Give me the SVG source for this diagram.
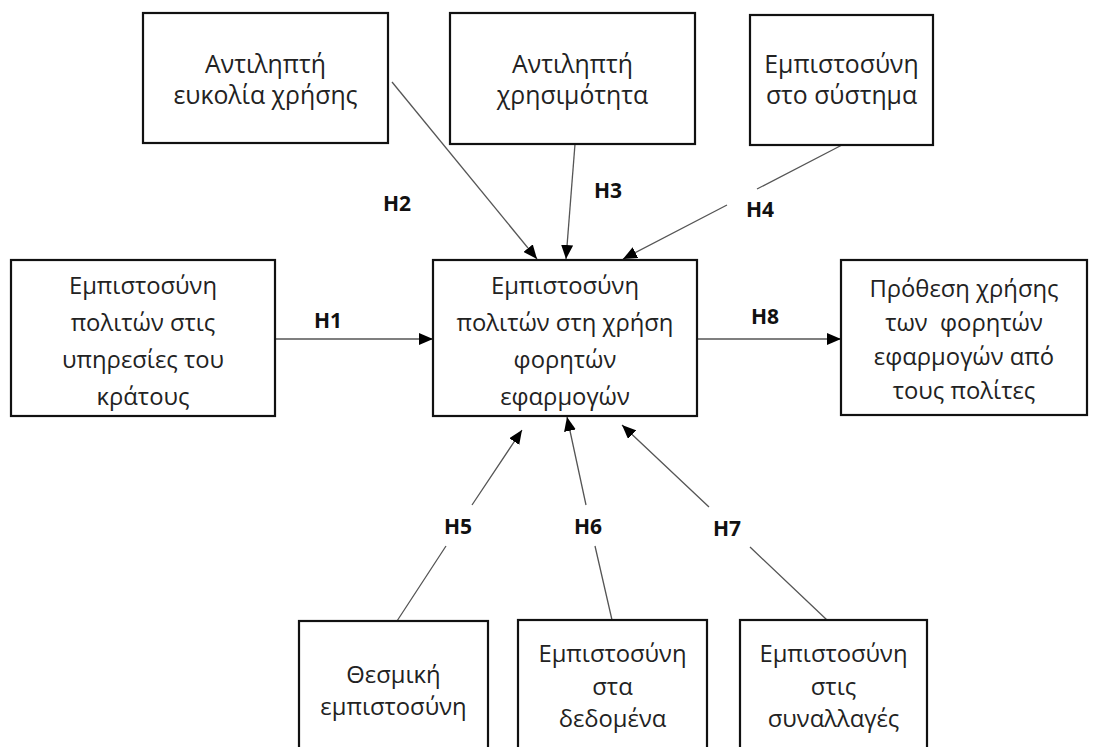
<svg xmlns="http://www.w3.org/2000/svg" width="1099" height="747" viewBox="0 0 1099 747">
<style>
.box{fill:#fff;stroke:#111;stroke-width:2.2}
.t{font-family:"Open Sans","Noto Sans","DejaVu Sans",sans-serif;font-size:23.8px;fill:#222;text-anchor:middle}
.tt{font-size:24.8px}
.lbl{font-family:"Open Sans","Noto Sans","DejaVu Sans",sans-serif;font-size:21px;font-weight:bold;fill:#111;text-anchor:middle}
.c{fill:none;stroke:#555;stroke-width:1.3;marker-end:url(#ah)}
</style>
<defs>
<marker id="ah" markerUnits="userSpaceOnUse" markerWidth="14" markerHeight="12" viewBox="0 0 14 12" refX="14" refY="6" orient="auto">
<path d="M0,0 L14,6 L0,12 z" fill="#000"/>
</marker>
</defs>
<rect width="1099" height="747" fill="#fff"/>
<g id="connectors">
<path class="c" d="M275,339 L433,339"/>
<path class="c" d="M697,339 L841,339"/>
<path class="c" d="M392,82 L537,259"/>
<path class="c" d="M575,144 L566,259"/>
<path class="c" d="M842,145 L757,189 M727,205 L623,259"/>
<path class="c" d="M397,621 L446,546 M472,505 L522,430"/>
<path class="c" d="M612,620 L595,546 M586,505 L567,417"/>
<path class="c" d="M827,620 L750,547 M709,507 L622,425"/>
</g>
<g id="labels">
<text class="lbl" x="328" y="328">H1</text>
<text class="lbl" x="397" y="211">H2</text>
<text class="lbl" x="608" y="198">H3</text>
<text class="lbl" x="760" y="217">H4</text>
<text class="lbl" x="458" y="534">H5</text>
<text class="lbl" x="588" y="534">H6</text>
<text class="lbl" x="727" y="536">H7</text>
<text class="lbl" x="765" y="324">H8</text>
</g>
<g id="n-ease">
<rect class="box" x="143" y="13" width="245" height="130"/>
<text class="t tt" x="265.5" y="73">Αντιληπτή</text>
<text class="t tt" x="265.5" y="104">ευκολία χρήσης</text>
</g>
<g id="n-usefulness">
<rect class="box" x="450" y="13" width="245" height="131"/>
<text class="t tt" x="572.5" y="73">Αντιληπτή</text>
<text class="t tt" x="572.5" y="104">χρησιμότητα</text>
</g>
<g id="n-system">
<rect class="box" x="750" y="15" width="183" height="130"/>
<text class="t tt" x="841.5" y="73">Εμπιστοσύνη</text>
<text class="t tt" x="841.5" y="104">στο σύστημα</text>
</g>
<g id="n-state">
<rect class="box" x="11" y="260" width="264" height="156"/>
<text class="t" x="143" y="294">Εμπιστοσύνη</text>
<text class="t" x="143" y="331">πολιτών στις</text>
<text class="t" x="143" y="368">υπηρεσίες του</text>
<text class="t" x="143" y="405">κράτους</text>
</g>
<g id="n-center">
<rect class="box" x="433" y="260" width="264" height="156"/>
<text class="t" x="565" y="294">Εμπιστοσύνη</text>
<text class="t" x="565" y="331">πολιτών στη χρήση</text>
<text class="t" x="565" y="368">φορητών</text>
<text class="t" x="565" y="405">εφαρμογών</text>
</g>
<g id="n-intention">
<rect class="box" x="841" y="260" width="246" height="155"/>
<text class="t" x="964" y="297">Πρόθεση χρήσης</text>
<text class="t" x="964" y="331" xml:space="preserve">των  φορητών</text>
<text class="t" x="964" y="365">εφαρμογών από</text>
<text class="t" x="964" y="399">τους πολίτες</text>
</g>
<g id="n-institutional">
<rect class="box" x="299" y="621" width="189" height="140"/>
<text class="t" x="393.5" y="683">Θεσμική</text>
<text class="t" x="393.5" y="715">εμπιστοσύνη</text>
</g>
<g id="n-data">
<rect class="box" x="518" y="620" width="189" height="140"/>
<text class="t" x="612.5" y="662">Εμπιστοσύνη</text>
<text class="t" x="612.5" y="695">στα</text>
<text class="t" x="612.5" y="727">δεδομένα</text>
</g>
<g id="n-transactions">
<rect class="box" x="740" y="620" width="187" height="140"/>
<text class="t" x="833.5" y="662">Εμπιστοσύνη</text>
<text class="t" x="833.5" y="695">στις</text>
<text class="t" x="833.5" y="727">συναλλαγές</text>
</g>
</svg>
